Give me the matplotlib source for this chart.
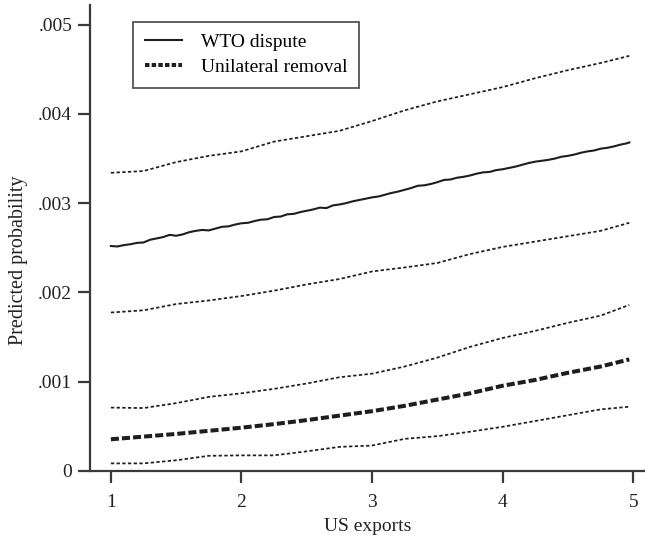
import matplotlib
matplotlib.use("Agg")
import matplotlib.pyplot as plt
from matplotlib.lines import Line2D

plt.rcParams["font.family"] = ["Liberation Serif", "DejaVu Serif"]
plt.rcParams["lines.scale_dashes"] = False

# US exports grid for the point estimate of a WTO dispute
x_wto = [1.00, 1.05, 1.10, 1.15, 1.20, 1.25, 1.30, 1.35, 1.40, 1.45,
         1.50, 1.55, 1.60, 1.65, 1.70, 1.75, 1.80, 1.85, 1.90, 1.95,
         2.00, 2.05, 2.10, 2.15, 2.20, 2.25, 2.30, 2.35, 2.40, 2.45,
         2.50, 2.55, 2.60, 2.65, 2.70, 2.75, 2.80, 2.85, 2.90, 2.95,
         3.00, 3.05, 3.10, 3.15, 3.20, 3.25, 3.30, 3.35, 3.40, 3.45,
         3.50, 3.55, 3.60, 3.65, 3.70, 3.75, 3.80, 3.85, 3.90, 3.95,
         4.00, 4.05, 4.10, 4.15, 4.20, 4.25, 4.30, 4.35, 4.40, 4.45,
         4.50, 4.55, 4.60, 4.65, 4.70, 4.75, 4.80, 4.85, 4.90, 4.95, 4.97]
wto_dispute = [2.520, 2.515, 2.530, 2.540, 2.555, 2.560, 2.590, 2.605, 2.620, 2.645,
               2.635, 2.650, 2.675, 2.690, 2.700, 2.695, 2.715, 2.735, 2.740, 2.760,
               2.775, 2.780, 2.800, 2.815, 2.820, 2.845, 2.850, 2.875, 2.880, 2.900,
               2.915, 2.930, 2.950, 2.945, 2.975, 2.985, 3.000, 3.020, 3.035, 3.050,
               3.065, 3.075, 3.095, 3.115, 3.130, 3.150, 3.170, 3.195, 3.200, 3.215,
               3.235, 3.260, 3.265, 3.285, 3.295, 3.310, 3.330, 3.345, 3.350, 3.370,
               3.380, 3.395, 3.410, 3.430, 3.450, 3.465, 3.475, 3.485, 3.500, 3.520,
               3.530, 3.545, 3.565, 3.580, 3.590, 3.610, 3.620, 3.635, 3.655, 3.670, 3.680]

# Grid for the unilateral-removal estimate and the confidence bounds
x_ci = [1.00, 1.25, 1.50, 1.75, 2.00, 2.25, 2.50, 2.75, 3.00,
        3.25, 3.50, 3.75, 4.00, 4.25, 4.50, 4.75, 4.97]
wto_upper = [3.34, 3.36, 3.46, 3.53, 3.58, 3.69, 3.75, 3.81, 3.92,
             4.04, 4.14, 4.22, 4.30, 4.40, 4.49, 4.57, 4.65]
wto_lower = [1.775, 1.80, 1.87, 1.91, 1.96, 2.02, 2.09, 2.15, 2.235,
             2.28, 2.33, 2.43, 2.51, 2.57, 2.63, 2.69, 2.78]
unilateral = [0.355, 0.385, 0.415, 0.45, 0.485, 0.525, 0.57, 0.62, 0.67,
              0.73, 0.80, 0.87, 0.955, 1.02, 1.10, 1.17, 1.25]
uni_upper = [0.71, 0.705, 0.76, 0.83, 0.87, 0.92, 0.98, 1.05, 1.09,
             1.17, 1.27, 1.39, 1.49, 1.57, 1.66, 1.74, 1.86]
uni_lower = [0.085, 0.085, 0.12, 0.17, 0.175, 0.175, 0.22, 0.27, 0.285,
             0.36, 0.39, 0.44, 0.495, 0.56, 0.625, 0.69, 0.72]

scale = 1e-3
x_ticks = [1, 2, 3, 4, 5]
y_ticks = [0, 0.001, 0.002, 0.003, 0.004, 0.005]
y_ticklabels = ["0", ".001", ".002", ".003", ".004", ".005"]

ink = "#1e1e1e"
axis_col = "#3a3a3a"
thin_dash = (0, (2.4, 1.7))
thick_dash = (0, (5.8, 2.2))

fig = plt.figure(figsize=(6.45, 5.36), dpi=100)
ax = fig.add_axes([0.1395, 0.1213, 0.8605, 0.8694])

def scaled(v):
    return [val * scale for val in v]

ax.plot(x_ci, scaled(wto_upper), color=ink, lw=1.25, linestyle=thin_dash)
ax.plot(x_ci, scaled(wto_lower), color=ink, lw=1.25, linestyle=thin_dash)
ax.plot(x_ci, scaled(uni_upper), color=ink, lw=1.25, linestyle=thin_dash)
ax.plot(x_ci, scaled(uni_lower), color=ink, lw=1.25, linestyle=thin_dash)
ax.plot(x_wto, scaled(wto_dispute), color=ink, lw=1.5, solid_joinstyle="round")
ax.plot(x_ci, scaled(unilateral), color=ink, lw=2.9, linestyle=thick_dash,
        dash_capstyle="butt")

ax.set_xlim(0.84, 5.09)
ax.set_ylim(0, 0.00522)
ax.set_xticks(x_ticks)
ax.set_xticklabels([str(t) for t in x_ticks])
ax.set_yticks(y_ticks)
ax.set_yticklabels(y_ticklabels)

for side in ("top", "right"):
    ax.spines[side].set_visible(False)
for side in ("left", "bottom"):
    ax.spines[side].set_color(axis_col)
    ax.spines[side].set_linewidth(1.6)

ax.tick_params(axis="both", direction="out", length=8.5, width=1.6,
               color=axis_col, labelsize=14, labelcolor="#222222")
ax.tick_params(axis="x", pad=8)
ax.tick_params(axis="y", pad=4.3)

ax.set_xlabel("US exports", fontsize=14, color="#222222", labelpad=5)
ax.set_ylabel("Predicted probability", fontsize=14.5, color="#222222")
ax.yaxis.set_label_coords(-0.112, 0.453)

handles = [
    Line2D([0], [0], color=ink, lw=1.5),
    Line2D([0], [0], color=ink, lw=2.9, linestyle=(0, (3.2, 1.6))),
]
leg = ax.legend(handles, ["WTO dispute", "Unilateral removal"],
                loc="upper left", bbox_to_anchor=(0.0775, 0.9635),
                fontsize=14, frameon=True, fancybox=False,
                handlelength=1.9, handletextpad=1.0, borderpad=0.6,
                labelspacing=0.36, borderaxespad=0)
frame = leg.get_frame()
frame.set_edgecolor("#2a2a2a")
frame.set_linewidth(1.3)

fig.savefig("out.png", dpi=100)
